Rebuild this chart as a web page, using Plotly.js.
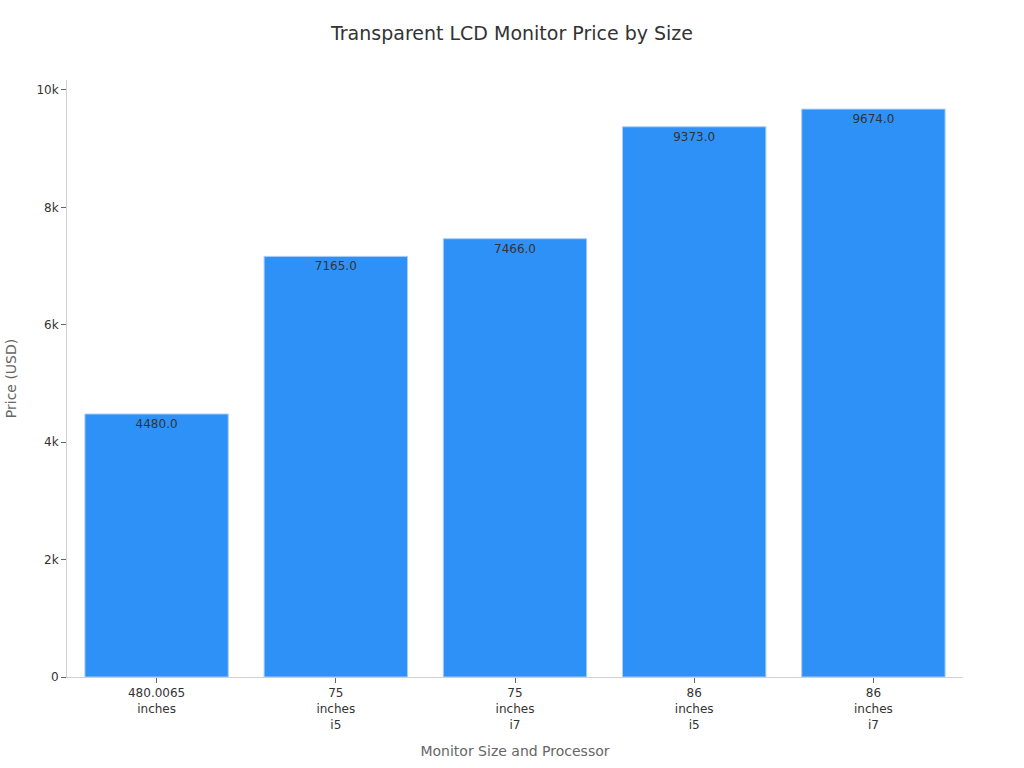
<!DOCTYPE html>
<html>
<head>
<meta charset="utf-8">
<script src="https://cdn.plot.ly/plotly-3.0.1.min.js"></script>
<style>
  html, body { margin: 0; padding: 0; background: #fff; }
  #chart { width: 1024px; height: 768px; }
</style>
</head>
<body>
<div id="chart"></div>
<script>
const categories = ['480.0065<br>inches', '75<br>inches<br>i5', '75<br>inches<br>i7', '86<br>inches<br>i5', '86<br>inches<br>i7'];
const prices = [4480.0, 7165.0, 7466.0, 9373.0, 9674.0];
const yTickVals = [0, 2000, 4000, 6000, 8000, 10000];
const yTickText = ['0', '2k', '4k', '6k', '8k', '10k'];

const bars = {
  x: categories,
  y: prices,
  type: 'bar',
  text: prices.map(v => v.toFixed(1)),
  textposition: 'inside',
  insidetextanchor: 'end',
  textfont: { size: 12, color: '#333333' },
  marker: {
    color: '#2E91F8',
    line: { color: '#A9CDF5', width: 1 }
  },
  hoverinfo: 'x+y'
};

const layout = {
  width: 1024,
  height: 768,
  margin: { l: 67, r: 61, t: 80, b: 91 },
  font: { family: 'DejaVu Sans, sans-serif', color: '#333333', size: 12 },
  title: {
    text: 'Transparent LCD Monitor Price by Size',
    font: { size: 19, color: '#333333' },
    x: 0.5,
    xanchor: 'center',
    yref: 'container',
    y: 0.957,
    yanchor: 'middle'
  },
  bargap: 0.2,
  xaxis: {
    title: { text: 'Monitor Size and Processor', font: { size: 14, color: '#666666' }, standoff: 15 },
    automargin: false,
    showline: true,
    linecolor: '#d0d0d0',
    ticks: 'outside',
    ticklen: 5,
    tickcolor: '#666666',
    showgrid: false
  },
  yaxis: {
    title: { text: 'Price (USD)', font: { size: 14, color: '#666666' }, standoff: 16 },
    automargin: true,
    range: [0, 10170],
    tickvals: yTickVals,
    ticktext: yTickText,
    showline: true,
    linecolor: '#d0d0d0',
    ticks: 'outside',
    ticklen: 5,
    tickcolor: '#666666',
    showgrid: false,
    zeroline: false
  },
  paper_bgcolor: '#ffffff',
  plot_bgcolor: '#ffffff',
  showlegend: false
};

Plotly.newPlot('chart', [bars], layout, { staticPlot: true });
</script>
</body>
</html>
